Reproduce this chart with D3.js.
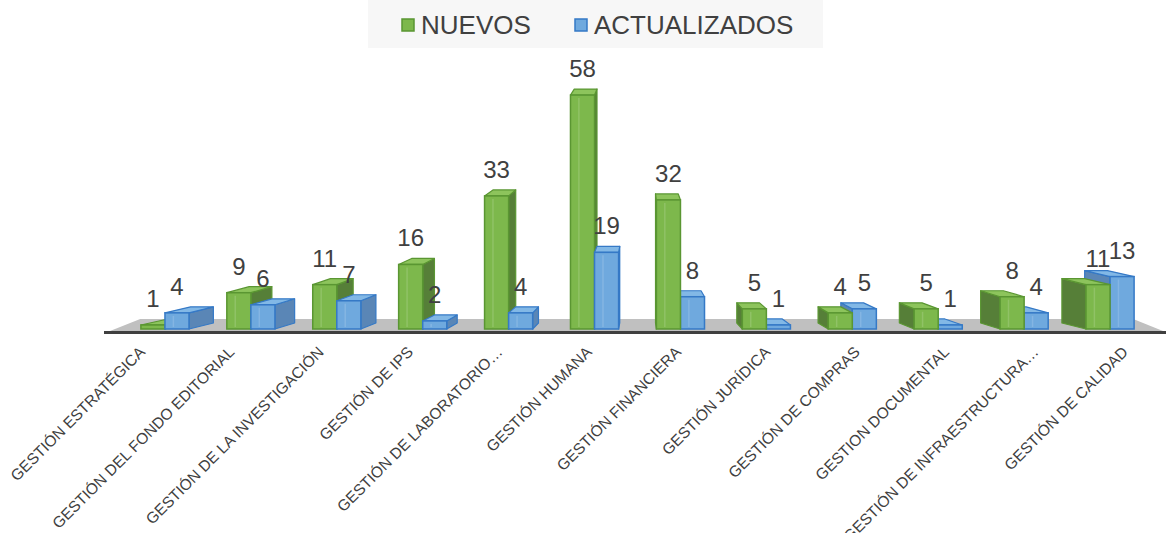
<!DOCTYPE html>
<html>
<head>
<meta charset="utf-8">
<script src="https://cdn.jsdelivr.net/npm/d3@7"></script>
<style>
  body { margin: 0; background: #ffffff; }
  svg { display: block; font-family: "Liberation Sans", Arial, sans-serif; }
</style>
</head>
<body>
<div class="chart"></div>
<script>
// categories and values
var categories = [
  "GESTIÓN ESTRATÉGICA",
  "GESTIÓN DEL FONDO EDITORIAL",
  "GESTIÓN DE LA INVESTIGACIÓN",
  "GESTIÓN DE IPS",
  "GESTIÓN DE LABORATORIO…",
  "GESTIÓN HUMANA",
  "GESTIÓN FINANCIERA",
  "GESTIÓN JURÍDICA",
  "GESTIÓN DE COMPRAS",
  "GESTION DOCUMENTAL",
  "GESTIÓN DE INFRAESTRUCTURA…",
  "GESTIÓN DE CALIDAD"
];
var nuevos = [1, 9, 11, 16, 33, 58, 32, 5, 4, 5, 8, 11];
var actualizados = [4, 6, 7, 2, 4, 19, 8, 1, 5, 1, 4, 13];
var seriesNames = ["NUEVOS", "ACTUALIZADOS"];

var svgWidth = 1166, svgHeight = 533;

var svg = d3.select(".chart").append("svg")
    .attr("width", svgWidth)
    .attr("height", svgHeight);

// colours per series: front, side, top, outline
var colors = {
  NUEVOS: { front: "#7db84c", side: "#567f38", top: "#8dc45c", stroke: "#5a9632" },
  ACTUALIZADOS: { front: "#6fa9de", side: "#5a86b6", top: "#82b8e6", stroke: "#3579c6" }
};

// scales
var xScale = d3.scaleBand()
    .domain(categories)
    .range([122, 1153])
    .paddingInner(0.44)
    .paddingOuter(0.22);

var xSub = d3.scaleBand()
    .domain(seriesNames)
    .range([0, xScale.bandwidth()]);

var yScale = d3.scaleLinear()
    .domain([0, 60])
    .range([329, 87]);

// fake perspective: back faces pulled toward vx, lifted by dy
var vx = 640;
var barK = 0.054, barDy = -6;
var floorK = 0.057, floorDy = -12;

function back(x, k) { return x + (vx - x) * k; }
// labels sit on the front edge of the floor, which is a bit wider
function front(x) { return vx + (x - vx) * 1.04; }

// legend
var legend = svg.append("g");
legend.append("rect")
    .attr("x", 368).attr("y", 0)
    .attr("width", 455).attr("height", 48)
    .attr("fill", "#f7f7f7");

var legendX = { NUEVOS: 402, ACTUALIZADOS: 575 };
seriesNames.forEach(function(s) {
  legend.append("rect")
      .attr("x", legendX[s]).attr("y", 19)
      .attr("width", 12).attr("height", 12)
      .attr("fill", colors[s].front)
      .attr("stroke", colors[s].stroke)
      .attr("stroke-width", 1.5);
  legend.append("text")
      .attr("x", legendX[s] + 19).attr("y", 34)
      .attr("font-size", 26)
      .attr("fill", "#404040")
      .text(s);
});

// floor
var floorY = 331;
var fl = 110, fr = 1163;
svg.append("polygon")
    .attr("points", [
      [fl, floorY], [fr, floorY],
      [back(fr, floorK), floorY + floorDy], [back(fl, floorK), floorY + floorDy]
    ].map(p => p.join(",")).join(" "))
    .attr("fill", "#c0c0c0");

svg.append("rect")
    .attr("x", fl - 6).attr("y", floorY)
    .attr("width", 1166 - fl + 6).attr("height", 3)
    .attr("fill", "#3f3f3f");

// bars
var bars = [];
categories.forEach(function(c, i) {
  bars.push({ cat: c, series: "NUEVOS", value: nuevos[i] });
  bars.push({ cat: c, series: "ACTUALIZADOS", value: actualizados[i] });
});
bars.forEach(function(d) {
  d.x0 = xScale(d.cat) + xSub(d.series);
  d.x1 = d.x0 + xSub.bandwidth();
  d.yTop = yScale(d.value);
  d.yBot = yScale(0);
});
// paint bars farthest from the vanishing point first
bars.sort((a, b) => Math.abs((b.x0 + b.x1) / 2 - vx) - Math.abs((a.x0 + a.x1) / 2 - vx));

var barGroup = svg.append("g").classed("bars", true);

function pts(arr) { return arr.map(p => p.join(",")).join(" "); }

bars.forEach(function(d) {
  var col = colors[d.series];
  var g = barGroup.append("g");
  var bx0 = back(d.x0, barK), bx1 = back(d.x1, barK);
  var edge = (d.x1 + d.x0) / 2 < vx ? [d.x1, bx1] : [d.x0, bx0];

  // side face
  g.append("polygon")
      .attr("points", pts([[edge[0], d.yTop], [edge[1], d.yTop + barDy],
                           [edge[1], d.yBot + barDy], [edge[0], d.yBot]]))
      .attr("fill", col.side)
      .attr("stroke", col.stroke)
      .attr("stroke-width", 1.2)
      .attr("stroke-linejoin", "round");

  // top face
  g.append("polygon")
      .attr("points", pts([[d.x0, d.yTop], [d.x1, d.yTop],
                           [bx1, d.yTop + barDy], [bx0, d.yTop + barDy]]))
      .attr("fill", col.top)
      .attr("stroke", col.stroke)
      .attr("stroke-width", 1.2)
      .attr("stroke-linejoin", "round");

  // front face
  g.append("rect")
      .attr("x", d.x0).attr("y", d.yTop)
      .attr("width", d.x1 - d.x0)
      .attr("height", d.yBot - d.yTop)
      .attr("fill", col.front)
      .attr("stroke", col.stroke)
      .attr("stroke-width", 1.5);

  // faint inner highlight
  if (d.yBot - d.yTop > 8) {
    g.append("line")
        .attr("x1", d.x0 + (d.x1 - d.x0) * 0.35).attr("x2", d.x0 + (d.x1 - d.x0) * 0.35)
        .attr("y1", d.yTop + 3).attr("y2", d.yBot - 2)
        .attr("stroke", "#ffffff")
        .attr("stroke-opacity", 0.15)
        .attr("stroke-width", 1.5);
  }
});

// value labels
svg.append("g")
    .selectAll("text")
    .data(bars)
    .enter()
    .append("text")
    .attr("x", d => (d.x0 + d.x1) / 2)
    .attr("y", d => d.yTop - 18)
    .attr("text-anchor", "middle")
    .attr("font-size", 24)
    .attr("fill", "#404040")
    .text(d => d.value);

// category labels, rotated
svg.append("g")
    .selectAll("text")
    .data(categories)
    .enter()
    .append("text")
    .attr("transform", d => `translate(${front(xScale(d) + xScale.bandwidth() / 2) - 0}, 353) rotate(-45)`)
    .attr("text-anchor", "end")
    .attr("font-size", 15.5)
    .attr("fill", "#404040")
    .text(d => d);
</script>
</body>
</html>
